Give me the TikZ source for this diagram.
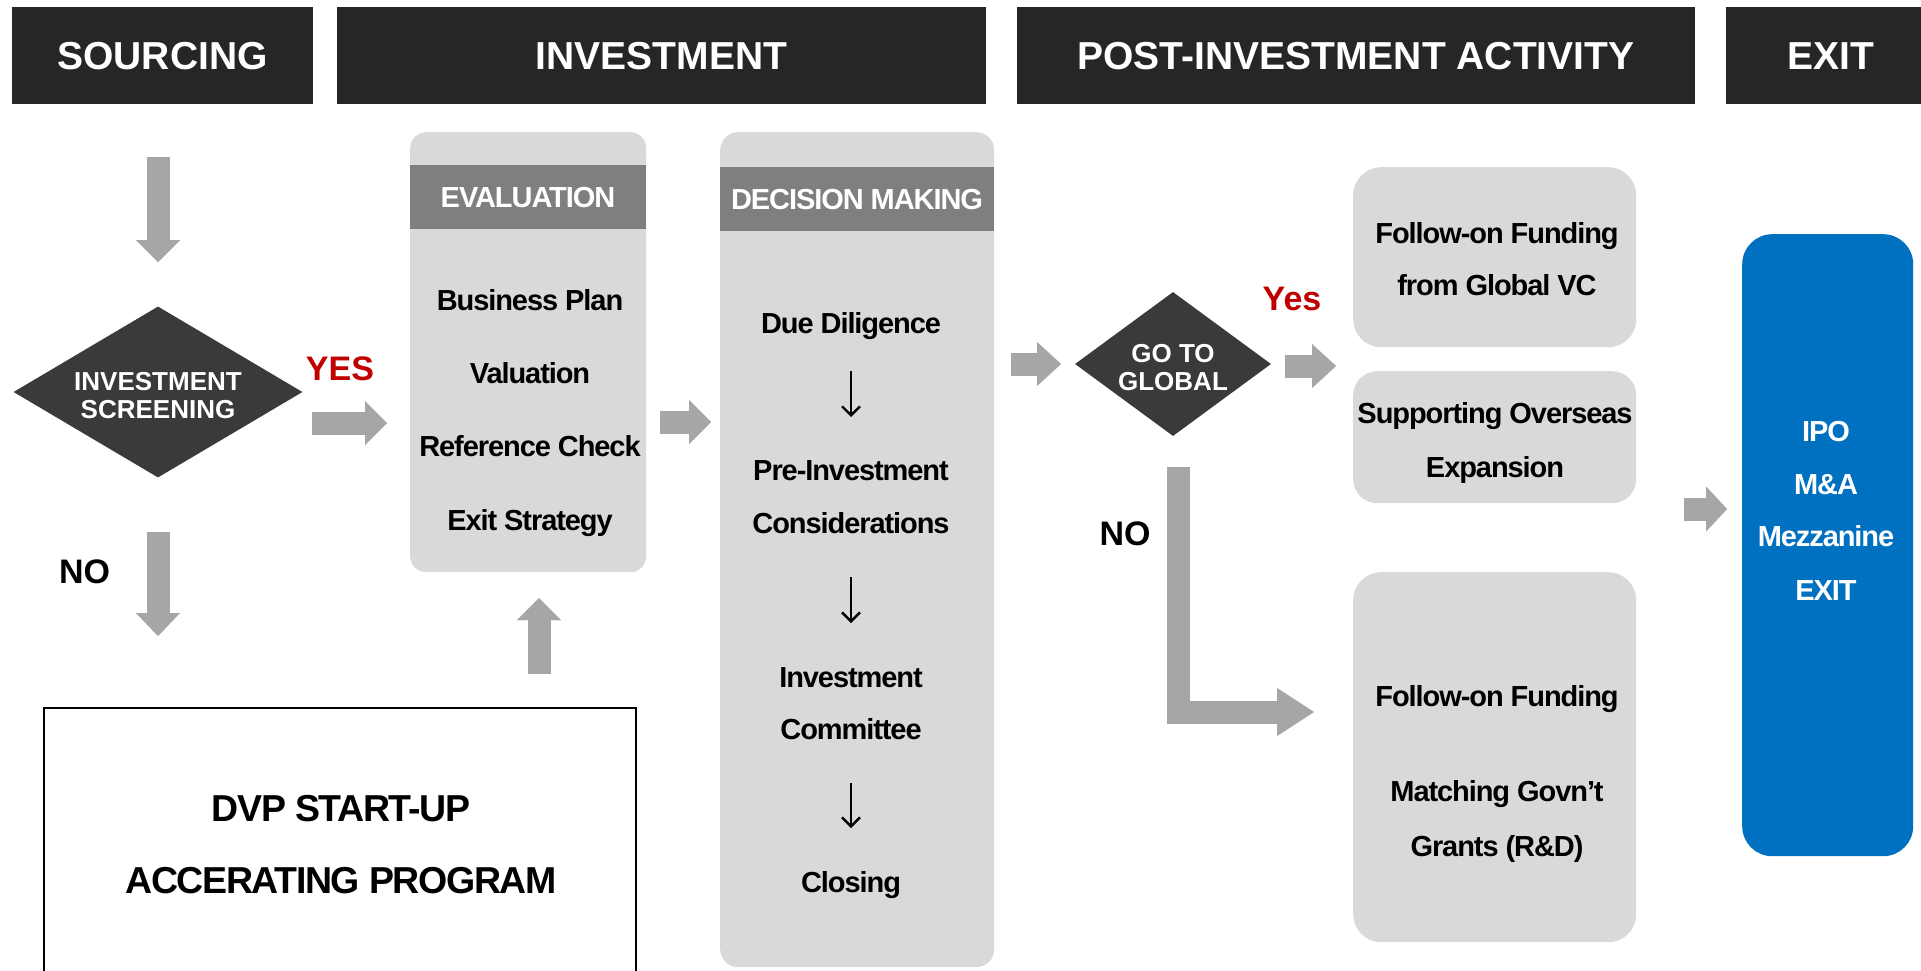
\documentclass[tikz,border=0pt]{standalone}
\usepackage{fontspec}
\setmainfont{Liberation Sans}
\newfontfamily\tightfont[LetterSpace=-3.7]{Liberation Sans}
\usetikzlibrary{arrows.meta,shapes.geometric}
\definecolor{hdr}{HTML}{262626}
\definecolor{dia}{HTML}{3A3A3A}
\definecolor{arr}{HTML}{A6A6A6}
\definecolor{boxg}{HTML}{D9D9D9}
\definecolor{band}{HTML}{7F7F7F}
\definecolor{blu}{HTML}{0070C0}
\definecolor{redl}{HTML}{C00000}
\begin{document}
\begin{tikzpicture}[x=1pt,y=-1pt,
  hdrbox/.style={fill=hdr,text=white,inner sep=0pt,minimum height=97pt,
    font=\fontsize{39}{47}\selectfont\bfseries,text height=28pt,text depth=0pt},
  panel/.style={fill=boxg,inner sep=0pt,anchor=north west},
  bandbox/.style={fill=band,text=white,inner sep=0pt,minimum height=64pt,
    font=\tightfont\fontsize{29}{34}\selectfont\bfseries,text height=20.8pt,text depth=0pt},
  bodytxt/.style={inner sep=0pt,font=\tightfont\fontsize{29}{34}\selectfont\bfseries,
    text height=20.8pt,text depth=0pt},
  wtxt/.style={bodytxt,text=white},
  diatxt/.style={inner sep=0pt,text=white,font=\fontsize{26}{31}\selectfont\bfseries,
    text height=18.6pt,text depth=0pt},
  lbl/.style={inner sep=0pt,font=\fontsize{34}{40}\selectfont\bfseries,
    text height=24.4pt,text depth=0pt},
  dvptxt/.style={inner sep=0pt,font=\tightfont\fontsize{37.5}{44}\selectfont\bfseries,
    text height=26.9pt,text depth=0pt},
  decide/.style={shape=diamond,fill=dia,inner sep=0pt},
  blockarrow/.style={draw=arr,line width=23pt,
    -{Triangle[width=44pt,length=22pt,line width=0.01pt]}},
  thinarrow/.style={draw=black,line width=2.4pt,
    -{Straight Barb[length=9pt,width=18pt]}}
]
\useasboundingbox (0,0) rectangle (1921,970);
\fill[white] (0,0) rectangle (1921,970);

% headers
\node[hdrbox,minimum width=301pt] (hsrc) at (162.5,55.5) {SOURCING};
\node[hdrbox,minimum width=649pt] (hinv) at (661.5,55.5) {INVESTMENT};
\node[hdrbox,minimum width=678pt] (hpost) at (1356,55.5) {POST-INVESTMENT ACTIVITY};
\node[hdrbox,minimum width=210pt] (hexit) at (1831,55.5) {EXIT};

% sourcing column
\node[decide,minimum width=289pt,minimum height=171pt] (scr) at (158,392) {};
\node[diatxt] (scr1) at (158,381) {INVESTMENT};
\node[diatxt] (scr2) at (158,409) {SCREENING};
\node[lbl,text=redl] (yes1) at (340,368) {YES};
\node[lbl] (no1) at (84.5,571) {NO};

\node[draw=black,line width=2pt,inner sep=0pt,anchor=north west,
  minimum width=592pt,minimum height=290pt] (dvp) at (43,707) {};
\node[dvptxt] (dvp1) at (341,808) {DVP START-UP};
\node[dvptxt] (dvp2) at (341,880) {ACCERATING PROGRAM};

% evaluation panel
\node[panel,rounded corners=16pt,minimum width=236pt,minimum height=440pt] (eval) at (410,132) {};
\node[bandbox,minimum width=236pt] (evalh) at (528,197) {EVALUATION};
\node[bodytxt] (ev1) at (530,300) {Business Plan};
\node[bodytxt] (ev2) at (530,373) {Valuation};
\node[bodytxt] (ev3) at (530,446) {Reference Check};
\node[bodytxt] (ev4) at (530,520) {Exit Strategy};

% decision panel
\node[panel,rounded corners=18pt,minimum width=274pt,minimum height=835pt] (dec) at (720,132) {};
\node[bandbox,minimum width=274pt] (dech) at (857,199) {DECISION MAKING};
\node[bodytxt] (dc1) at (851,323) {Due Diligence};
\node[bodytxt] (dc2) at (851,470) {Pre-Investment};
\node[bodytxt] (dc3) at (851,523) {Considerations};
\node[bodytxt] (dc4) at (851,677) {Investment};
\node[bodytxt] (dc5) at (851,729) {Committee};
\node[bodytxt] (dc6) at (851,882) {Closing};

% go to global
\node[decide,minimum width=196pt,minimum height=144pt] (glob) at (1173,364) {};
\node[diatxt] (glob1) at (1173,353) {GO TO};
\node[diatxt] (glob2) at (1173,381) {GLOBAL};
\node[lbl,text=redl] (yes2) at (1292,298) {Yes};
\node[lbl] (no2) at (1125,533) {NO};

% right panels
\node[panel,rounded corners=28pt,minimum width=283pt,minimum height=180pt] (fg) at (1353,167) {};
\node[bodytxt] (fg1) at (1497,233) {Follow-on Funding};
\node[bodytxt] (fg2) at (1497,285) {from Global VC};
\node[panel,rounded corners=24pt,minimum width=283pt,minimum height=132pt] (so) at (1353,371) {};
\node[bodytxt] (so1) at (1495,413) {Supporting Overseas};
\node[bodytxt] (so2) at (1495,467) {Expansion};
\node[panel,rounded corners=28pt,minimum width=283pt,minimum height=370pt] (fd) at (1353,572) {};
\node[bodytxt] (fd1) at (1497,696) {Follow-on Funding};
\node[bodytxt] (fd2) at (1497,791) {Matching Govn’t};
\node[bodytxt] (fd3) at (1497,846) {Grants (R\&D)};

% exit panel
\node[fill=blu,rounded corners=30pt,inner sep=0pt,anchor=north west,
  minimum width=171pt,minimum height=622pt] (ex) at (1742,234) {};
\node[wtxt] (ex1) at (1826,431) {IPO};
\node[wtxt] (ex2) at (1826,484) {M\&A};
\node[wtxt] (ex3) at (1826,536) {Mezzanine};
\node[wtxt] (ex4) at (1826,590) {EXIT};

% block arrow end points
\coordinate (a1s) at (158,157);  \coordinate (a1e) at (158,262);
\coordinate (a2s) at (312,423);  \coordinate (a2e) at (387,423);
\coordinate (a3s) at (660,422);  \coordinate (a3e) at (711,422);
\coordinate (a4s) at (1011,364); \coordinate (a4e) at (1061,364);
\coordinate (a5s) at (1285,366); \coordinate (a5e) at (1336,366);
\coordinate (a6s) at (158,532);  \coordinate (a6e) at (158,636);
\coordinate (a7s) at (539,674);  \coordinate (a7e) at (539,598);
\coordinate (a8s) at (1178,467); \coordinate (a8e) at (1314,712);
\coordinate (a9s) at (1684,509); \coordinate (a9e) at (1727,509);

\draw[blockarrow] (a1s) -- (a1e);
\draw[blockarrow] (a2s) -- (a2e);
\draw[blockarrow] (a3s) -- (a3e);
\draw[blockarrow,-{Triangle[width=44pt,length=24pt,line width=0.01pt]}] (a4s) -- (a4e);
\draw[blockarrow,-{Triangle[width=44pt,length=24pt,line width=0.01pt]}] (a5s) -- (a5e);
\draw[blockarrow,-{Triangle[width=44pt,length=23pt,line width=0.01pt]}] (a6s) -- (a6e);
\draw[blockarrow] (a7s) -- (a7e);
\draw[blockarrow,-{Triangle[width=48pt,length=37pt,line width=0.01pt]}] (a8s) |- (a8e);
\draw[blockarrow,-{Triangle[width=45pt,length=21pt,line width=0.01pt]}] (a9s) -- (a9e);

% thin arrows in decision panel
\coordinate (t1s) at (851,371); \coordinate (t1e) at (851,417);
\coordinate (t2s) at (851,577); \coordinate (t2e) at (851,623);
\coordinate (t3s) at (851,783); \coordinate (t3e) at (851,828);
\draw[thinarrow] (t1s) -- (t1e);
\draw[thinarrow] (t2s) -- (t2e);
\draw[thinarrow] (t3s) -- (t3e);
\end{tikzpicture}
\end{document}
